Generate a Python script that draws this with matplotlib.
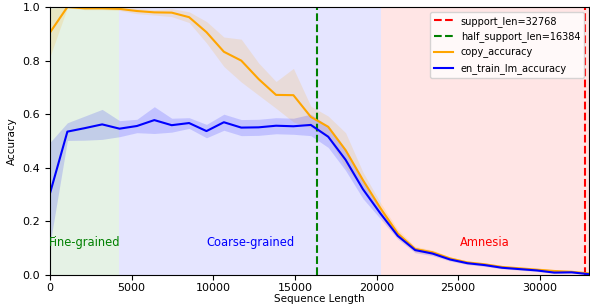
import matplotlib
matplotlib.use("Agg")
from matplotlib import pyplot as plt
import numpy as np

seq_len = [0, 1065, 2130, 3195, 4260, 5325, 6390, 7455, 8520, 9585,
           10650, 11715, 12780, 13845, 14910, 15975, 17040, 18105, 19170, 20235,
           21300, 22365, 23430, 24495, 25560, 26625, 27690, 28755, 29820, 30885,
           31950, 33015]

copy_acc = [0.905, 1.0, 0.995, 0.995, 0.993, 0.985, 0.98, 0.979, 0.962, 0.906,
            0.833, 0.80, 0.731, 0.672, 0.671, 0.59, 0.553, 0.466, 0.354, 0.25,
            0.155, 0.097, 0.085, 0.062, 0.047, 0.04, 0.03, 0.025, 0.02, 0.015,
            0.012, 0.006]
copy_std = [0.09, 0.003, 0.005, 0.005, 0.006, 0.01, 0.01, 0.015, 0.02, 0.04,
            0.055, 0.08, 0.06, 0.05, 0.1, 0.04, 0.04, 0.065, 0.03, 0.02,
            0.015, 0.01, 0.008, 0.006, 0.005, 0.005, 0.005, 0.004, 0.004, 0.004,
            0.003, 0.003]

lm_acc = [0.305, 0.535, 0.548, 0.562, 0.546, 0.556, 0.578, 0.559, 0.567, 0.537,
          0.57, 0.55, 0.551, 0.557, 0.555, 0.56, 0.516, 0.43, 0.32, 0.23,
          0.146, 0.093, 0.08, 0.058, 0.044, 0.037, 0.027, 0.022, 0.017, 0.009,
          0.01, 0.003]
lm_std = [0.19, 0.033, 0.045, 0.056, 0.03, 0.025, 0.05, 0.026, 0.02, 0.025,
          0.03, 0.03, 0.03, 0.03, 0.03, 0.04, 0.04, 0.04, 0.035, 0.02,
          0.012, 0.01, 0.008, 0.006, 0.005, 0.005, 0.004, 0.004, 0.004, 0.003,
          0.003, 0.003]

support_len = 32768
half_support_len = 16384
fine_end = 4250
coarse_end = 20250

x = np.array(seq_len)
ca, cs = np.array(copy_acc), np.array(copy_std)
la, ls = np.array(lm_acc), np.array(lm_std)

fig = plt.figure(figsize=(5.9, 3.07), dpi=100)
ax = fig.add_axes([50/590, 32/307, 539/590, 268/307])

xmax = x[-1]
ax.axvspan(0, fine_end, color='green', alpha=0.1, lw=0)
ax.axvspan(fine_end, coarse_end, color='blue', alpha=0.1, lw=0)
ax.axvspan(coarse_end, xmax, color='red', alpha=0.1, lw=0)

ax.axvline(support_len, color='red', ls='--', label='support_len=32768')
ax.axvline(half_support_len, color='green', ls='--', label='half_support_len=16384')

ax.fill_between(x, ca - cs, np.minimum(ca + cs, 1.0), color='orange', alpha=0.15, lw=0)
ax.plot(x, ca, color='orange', label='copy_accuracy')
ax.fill_between(x, la - ls, la + ls, color='blue', alpha=0.15, lw=0)
ax.plot(x, la, color='blue', label='en_train_lm_accuracy')

ax.text(fine_end / 2, 0.12, 'Fine-grained', color='green', ha='center', va='center', fontsize=8.3)
ax.text((fine_end + coarse_end) / 2, 0.12, 'Coarse-grained', color='blue', ha='center', va='center', fontsize=8.3)
ax.text((coarse_end + xmax) / 2, 0.12, 'Amnesia', color='red', ha='center', va='center', fontsize=8.3)

ax.set_xlim(0, xmax)
ax.set_ylim(0, 1.0)
ax.tick_params(labelsize=8)
ax.tick_params(axis='x', pad=2)
ax.set_xlabel('Sequence Length', fontsize=7.5, labelpad=1)
ax.set_ylabel('Accuracy', fontsize=7.5)
ax.legend(loc='upper right', fontsize=7)

fig.savefig('out.png', dpi=100)
